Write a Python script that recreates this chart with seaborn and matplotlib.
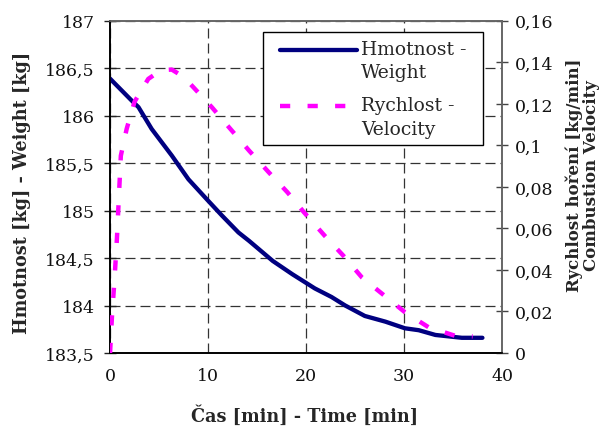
import matplotlib
matplotlib.use("Agg")
import matplotlib.pyplot as plt
from matplotlib.ticker import FuncFormatter, MultipleLocator
from matplotlib.lines import Line2D
import numpy as np
import pandas as pd
import seaborn as sns

# Burning test: sample weight and combustion velocity over time
time_weight = [0, 2.2, 2.9, 4.25, 6.3, 8.0, 10, 11.4, 13.1, 14.2, 16.6, 18.6,
               20.9, 22.6, 24, 26, 28.1, 30.1, 31.5, 33.2, 35.9, 38]
weight = [186.39, 186.16, 186.09, 185.86, 185.58, 185.33, 185.105, 184.95,
          184.77, 184.68, 184.47, 184.33, 184.18, 184.09, 184.0, 183.89,
          183.83, 183.76, 183.74, 183.69, 183.66, 183.66]

time_velocity = [0, 0.2, 0.45, 0.7, 0.9, 1.1, 1.7, 2.5, 3.9, 5.2, 6.3, 7.5,
                 8.5, 10.4, 12.3, 14.2, 16.2, 18.1, 19.8, 21.9, 23.8, 25.7,
                 27.9, 30.1, 32.5, 35.2, 37]
velocity = [0, 0.018, 0.035, 0.055, 0.075, 0.095, 0.108, 0.121, 0.132, 0.1362,
            0.1365, 0.133, 0.128, 0.1183, 0.1078, 0.0974, 0.087, 0.0774,
            0.0677, 0.0565, 0.0469, 0.0364, 0.028, 0.0196, 0.0124, 0.0083,
            0.008]

weight_label = "Hmotnost -\nWeight"
velocity_label = "Rychlost -\nVelocity"
xlabel = "Čas [min] - Time [min]"
ylabel_left = "Hmotnost [kg] - Weight [kg]"
ylabel_right = "Rychlost hoření [kg/min]\nCombustion Velocity"

sns.set_theme(style="white")
plt.rcParams["font.family"] = ["DejaVu Serif"]

df_w = pd.DataFrame({"t": time_weight, "w": weight})
df_v = pd.DataFrame({"t": time_velocity, "v": velocity})

WEIGHT_COLOR = "#000080"
VEL_COLOR = "#FF00FF"
VEL_DASH = (0, (2.3, 3.9))

fig = plt.figure(figsize=(6.08, 4.27), dpi=100)
ax = fig.add_axes([0.181, 0.171, 0.6447, 0.778])
ax2 = ax.twinx()

sns.lineplot(data=df_w, x="t", y="w", ax=ax, color=WEIGHT_COLOR, lw=3.1,
             legend=False, zorder=3)
sns.lineplot(data=df_v, x="t", y="v", ax=ax2, color=VEL_COLOR, lw=3.2,
             legend=False, zorder=3)
ax2.lines[0].set_linestyle(VEL_DASH)
ax2.lines[0].set_dash_capstyle("butt")

ax.set_xlim(0, 40)
ax.set_ylim(183.5, 187)
ax2.set_ylim(0, 0.16)
ax.xaxis.set_major_locator(MultipleLocator(10))
ax.yaxis.set_major_locator(MultipleLocator(0.5))
ax2.yaxis.set_major_locator(MultipleLocator(0.02))

fmt = FuncFormatter(lambda v, p: f"{v:g}".replace(".", ","))
ax.yaxis.set_major_formatter(fmt)
ax2.yaxis.set_major_formatter(fmt)
ax.xaxis.set_major_formatter(fmt)

ax.grid(True, which="major", color="#333333", linestyle=(0, (8, 4)), lw=0.9)
ax.set_axisbelow(True)
ax2.grid(False)

for a in (ax, ax2):
    a.set_xlabel("")
    a.set_ylabel("")
    for side, sp in a.spines.items():
        sp.set_visible(True)
        sp.set_linewidth(1.2)
        sp.set_color("#000000" if side in ("left", "bottom") else "#666666")

ax.tick_params(axis="both", which="major", direction="inout", length=8,
               width=1, color="#222222", labelsize=12.5, colors="#111111")
ax.tick_params(axis="y", pad=7)
ax.tick_params(axis="x", pad=6)
ax2.tick_params(axis="y", which="major", direction="inout", length=8,
                width=1, color="#444444", labelsize=12.5, colors="#111111",
                pad=5)

fig.text(0.5016, 0.026, xlabel, ha="center", va="center", fontsize=12.7,
         fontweight="bold")
fig.text(0.037, 0.549, ylabel_left, ha="center", va="center", rotation=90,
         fontsize=12.7, fontweight="bold")
fig.text(0.959, 0.590, ylabel_right, ha="center", va="center", rotation=90,
         fontsize=12.0, fontweight="bold", multialignment="center",
         linespacing=1.0)

handles = [Line2D([], [], color=WEIGHT_COLOR, lw=3.1),
           Line2D([], [], color=VEL_COLOR, lw=3.2, linestyle=VEL_DASH)]
leg = ax2.legend(handles, [weight_label, velocity_label], loc="upper left",
                 bbox_to_anchor=(0.39, 0.629, 0.561, 0.337), mode="expand",
                 fontsize=13.5, frameon=True,
                 fancybox=False, edgecolor="#000000", framealpha=1,
                 handlelength=4.6, handletextpad=0.2, borderpad=0.42,
                 labelspacing=0.8, borderaxespad=0)
leg.get_frame().set_linewidth(1.0)
for t in leg.get_texts():
    t.set_linespacing(1.38)

# Put each legend key level with the first line of its label, indented
fig.canvas.draw()
px2pt = 72.0 / fig.dpi
for line, txt in zip(leg.get_lines(), leg.get_texts()):
    bb = txt.get_window_extent()
    xd = np.asarray(line.get_xdata(), dtype=float)
    yd = np.asarray(line.get_ydata(), dtype=float)
    cur = line.get_transform().transform((xd[0], yd[0]))[1]
    new_y = yd[0] + (bb.y1 - 10.0 - cur) * px2pt
    line.set_data([xd.min() + 9.0 * px2pt, xd.max()], [new_y, new_y])

fig.savefig("out.png", dpi=100)
